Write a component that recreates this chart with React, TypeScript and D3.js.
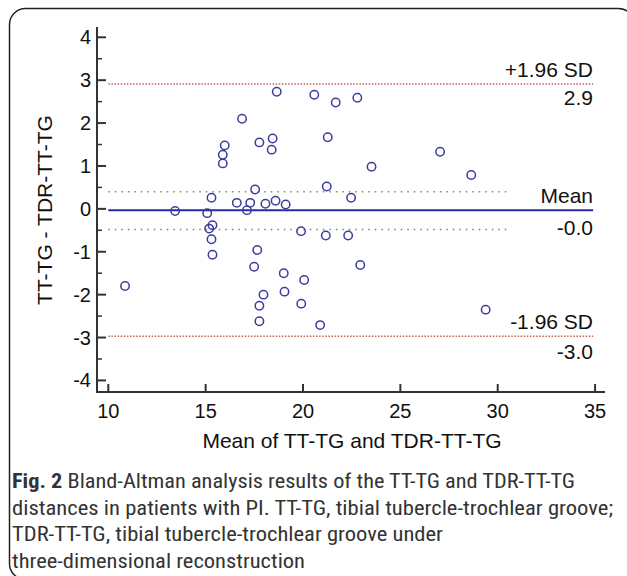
import React from 'react'
import * as d3 from 'd3'

const width = 627
const height = 576

// mean of the two measurements (x) and their difference (y)
const meanValues = [
    10.86, 13.43, 15.08, 15.3, 15.18, 15.35, 15.3, 15.35, 15.88, 15.88, 15.98, 16.87,
    16.6, 17.12, 17.29, 17.54, 17.76, 18.07, 18.39, 18.44, 18.59, 18.65, 19.11, 17.65,
    17.49, 17.97, 17.76, 17.76, 19.01, 19.05, 19.9, 20.06, 19.91, 20.58, 20.88, 21.22,
    21.17, 21.27, 21.68, 22.47, 22.32, 22.79, 22.94, 23.52, 27.04, 28.64, 29.38,
]
const diffValues = [
    -1.8, -0.05, -0.1, 0.26, -0.46, -0.38, -0.71, -1.07, 1.06, 1.26, 1.48, 2.1,
    0.14, -0.03, 0.14, 0.45, 1.55, 0.12, 1.38, 1.64, 0.19, 2.73, 0.1, -0.96,
    -1.35, -2.0, -2.26, -2.62, -1.5, -1.93, -0.52, -1.66, -2.21, 2.66, -2.71, 0.52,
    -0.62, 1.67, 2.48, 0.26, -0.62, 2.59, -1.31, 0.98, 1.33, 0.79, -2.35,
]

const xTicks = [10, 15, 20, 25, 30, 35]
const yTicks = [-4, -3, -2, -1, 0, 1, 2, 3, 4]
const yMinorTicks = [-3.5, -2.5, -1.5, -0.5, 0.5, 1.5, 2.5, 3.5]

const meanDiff = -0.03
const upperLimit = 2.91
const lowerLimit = -2.97
const ciUpper = 0.4
const ciLower = -0.48

const captionLines = [
    'Bland-Altman analysis results of the TT-TG and TDR-TT-TG',
    'distances in patients with PI. TT-TG, tibial tubercle-trochlear groove;',
    'TDR-TT-TG, tibial tubercle-trochlear groove under',
    'three-dimensional reconstruction',
]

const x = d3.scaleLinear().domain([9.42, 35.51]).range([97, 605])
const y = d3.scaleLinear().domain([-4.27, 4.24]).range([392, 27])

const font = '"Liberation Sans", Arial, sans-serif'
const capFont = '"Roboto Condensed", "DejaVu Sans Condensed", sans-serif'

const App = () => {
    const points = meanValues.map((m, i) => ({ cx: x(m), cy: y(diffValues[i]) }))
    const hline = (v: number, x1: number, x2: number) =>
        d3.line()([
            [x(x1), y(v)],
            [x(x2), y(v)],
        ]) as string

    const capWidths = [563, 601, 431, 293]
    return (
        <svg width={width} height={height} style={{ position: 'absolute', left: 0, top: 0 }}>
            <rect x={0} y={0} width={width} height={height} fill="#fff" />
            <rect x={9.5} y={8.5} width={625} height={571} rx={16} fill="none" stroke="#222" strokeWidth={1.5} />

            {/* reference lines */}
            <path d={hline(ciUpper, 10, 30.6)} stroke="#5c9e3a" strokeWidth={1.5} strokeDasharray="1.5 5" fill="none" />
            <path d={hline(ciLower, 10, 30.6)} stroke="#5c9e3a" strokeWidth={1.5} strokeDasharray="1.5 5" fill="none" />
            <path d={hline(upperLimit, 10, 34.9)} stroke="#c0605a" strokeWidth={1.5} strokeDasharray="1.5 1.6" fill="none" />
            <path d={hline(lowerLimit, 10, 34.9)} stroke="#c0605a" strokeWidth={1.5} strokeDasharray="1.5 1.6" fill="none" />
            <path d={hline(meanDiff, 10, 34.9)} stroke="#2a2aa6" strokeWidth={2} fill="none" />

            {points.map((p, i) => (
                <circle key={i} cx={p.cx} cy={p.cy} r={4.2} fill="none" stroke="#3c3c9e" strokeWidth={1.5} />
            ))}

            {/* axes */}
            <g stroke="#333" strokeWidth={2} fill="none">
                <line x1={97} y1={27} x2={97} y2={393} />
                <line x1={96} y1={392} x2={605} y2={392} />
                {yTicks.map((t) => (
                    <line key={t} x1={97} x2={106} y1={y(t)} y2={y(t)} />
                ))}
                {yMinorTicks.map((t) => (
                    <line key={t} x1={97} x2={102} y1={y(t)} y2={y(t)} strokeWidth={1.5} />
                ))}
                {xTicks.map((t) => (
                    <line key={t} x1={x(t)} x2={x(t)} y1={392} y2={384} />
                ))}
            </g>
            <g style={{ fontFamily: font, fontSize: 20 }} fill="#111">
                {yTicks.map((t) => (
                    <text key={t} x={91} y={y(t) + 7} textAnchor="end">
                        {t < 0 ? `-${Math.abs(t)}` : t}
                    </text>
                ))}
                {xTicks.map((t) => (
                    <text key={t} x={x(t)} y={418} textAnchor="middle">
                        {t}
                    </text>
                ))}
            </g>
            <g style={{ fontFamily: font, fontSize: 21 }} fill="#111">
                <text x={352} y={448} textAnchor="middle">
                    Mean of TT-TG and TDR-TT-TG
                </text>
                <text transform="translate(52, 210) rotate(-90)" textAnchor="middle">
                    TT-TG - TDR-TT-TG
                </text>
                <text x={593} y={77} textAnchor="end">+1.96 SD</text>
                <text x={593} y={105} textAnchor="end">{upperLimit.toFixed(1)}</text>
                <text x={593} y={203} textAnchor="end">Mean</text>
                <text x={593} y={235} textAnchor="end">-0.0</text>
                <text x={593} y={329} textAnchor="end">-1.96 SD</text>
                <text x={593} y={359} textAnchor="end">{lowerLimit.toFixed(1)}</text>
            </g>

            {/* caption */}
            <g style={{ fontFamily: capFont, fontSize: 20 }} fill="#333">
                <text x={12} y={488} textLength={capWidths[0]} lengthAdjust="spacingAndGlyphs">
                    <tspan fontWeight="bold">Fig. 2</tspan> {captionLines[0]}
                </text>
                {captionLines.slice(1).map((l, i) => (
                    <text key={i} x={12} y={514.5 + i * 26.5} textLength={capWidths[i + 1]} lengthAdjust="spacingAndGlyphs">
                        {l}
                    </text>
                ))}
            </g>
        </svg>
    )
}

export default App
